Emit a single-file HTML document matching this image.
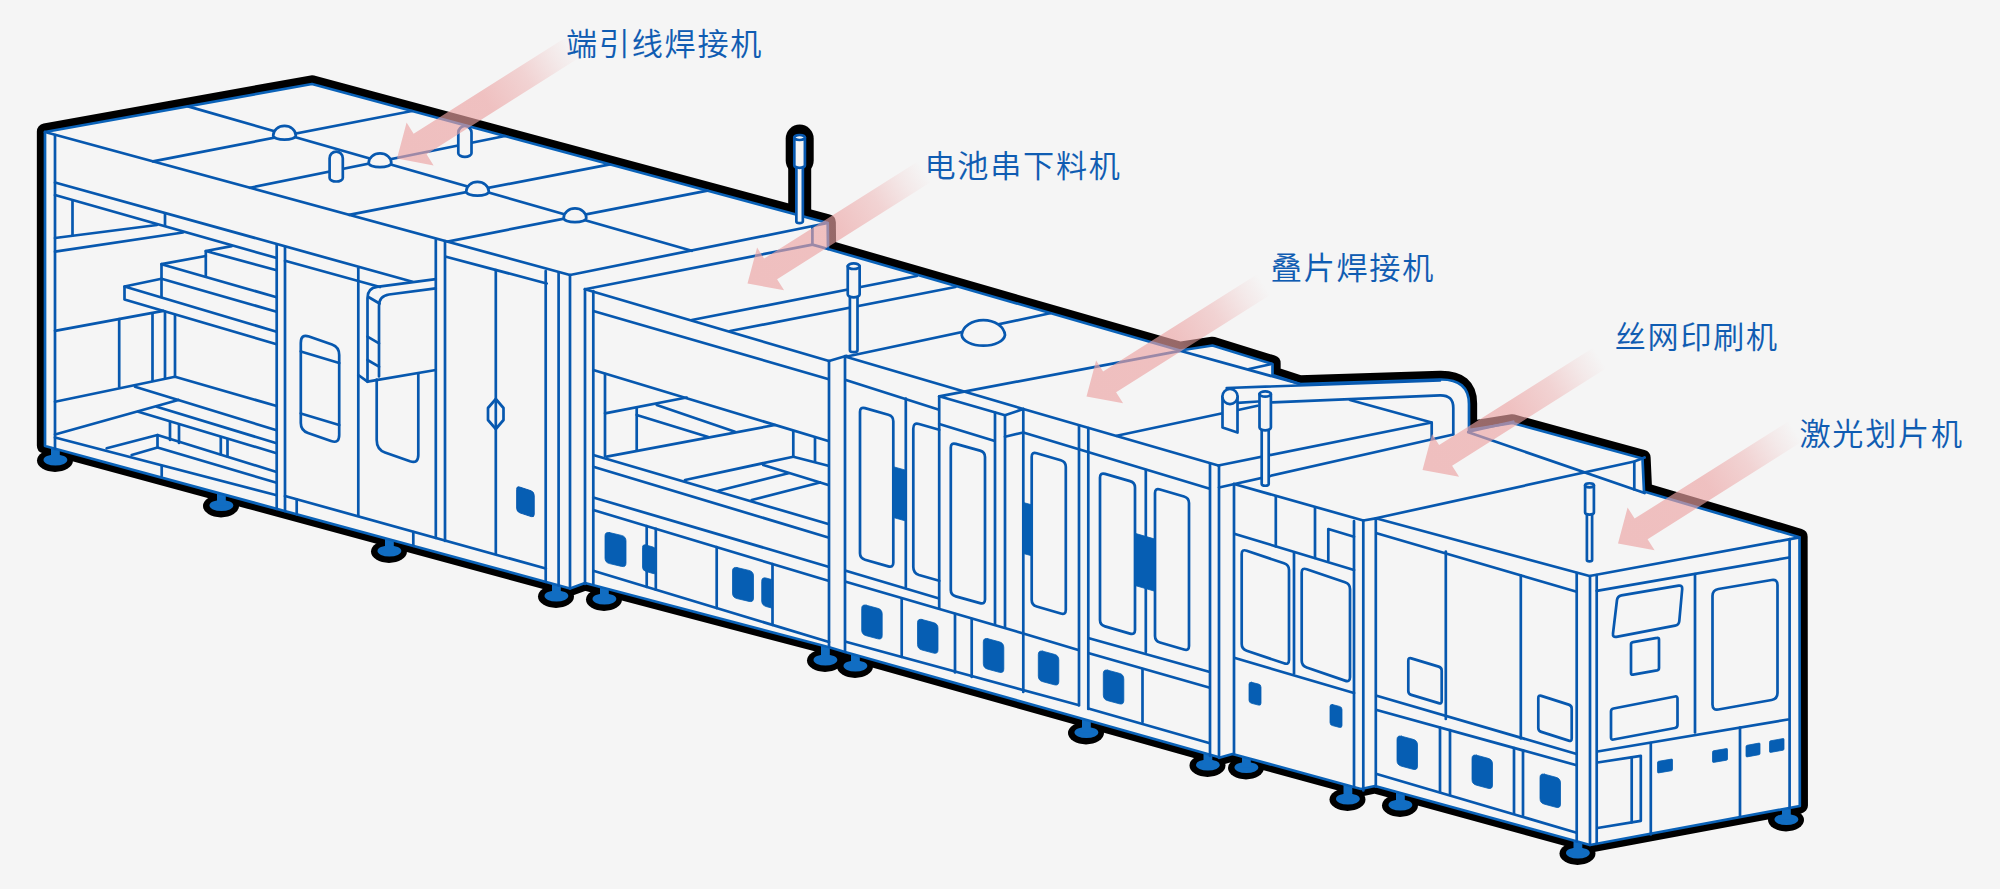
<!DOCTYPE html>
<html lang="zh"><head><meta charset="utf-8"><title>生产线</title>
<style>
html,body{margin:0;padding:0;background:#f5f5f5;}
body{width:2000px;height:889px;overflow:hidden;position:relative;font-family:"Liberation Sans","Noto Sans CJK SC",sans-serif;}
svg{position:absolute;left:0;top:0;display:block}
.lbl{position:absolute;color:#0f5cb2;font-size:31.1px;line-height:40px;font-weight:350;white-space:nowrap;-webkit-text-stroke:0.1px #0f5cb2;letter-spacing:1.75px}
</style></head><body>
<svg width="2000" height="889" viewBox="0 0 2000 889" stroke-linejoin="round" stroke-linecap="round">
<rect x="0" y="0" width="2000" height="889" fill="#f5f5f5"/>
<path d="M45,132 L312,84 L827.7,223 L828,249 L1180,350.5 L1212.5,345.5 L1272.5,364 L1272.5,375 L1300,384 L1440,379.5 Q1469,379 1469,404 L1469,430 L1512.5,423 L1642.5,458.5 L1644,491.5 L1799.5,537.3 L1799.8,806 L1590,845 L1375,786 L1361,789 L1232.5,754 L1220,757.5 L845,652 L830,647.5 L585,583 L570,588.5 L45,446 Z" fill="#000" stroke="#000" stroke-width="16.3" transform="translate(0,-0.6)"/>
<path d="M799.7,138.6 L799.7,160.5" fill="none" stroke="#000" stroke-width="28"/>
<path d="M799.7,150 L799.7,215" fill="none" stroke="#000" stroke-width="23"/>
<ellipse cx="55" cy="460.6" rx="18" ry="11.3" fill="#000"/>
<rect x="48" y="442" width="14" height="18" fill="#000"/>
<ellipse cx="221" cy="506.1" rx="18" ry="11.3" fill="#000"/>
<rect x="214" y="487.5" width="14" height="18" fill="#000"/>
<ellipse cx="389" cy="551.6" rx="18" ry="11.3" fill="#000"/>
<rect x="382" y="533" width="14" height="18" fill="#000"/>
<ellipse cx="556" cy="596.6" rx="18" ry="11.3" fill="#000"/>
<rect x="549" y="578" width="14" height="18" fill="#000"/>
<ellipse cx="604" cy="599.6" rx="18" ry="11.3" fill="#000"/>
<rect x="597" y="581" width="14" height="18" fill="#000"/>
<ellipse cx="825" cy="660.6" rx="18" ry="11.3" fill="#000"/>
<rect x="818" y="642" width="14" height="18" fill="#000"/>
<ellipse cx="855" cy="666.6" rx="18" ry="11.3" fill="#000"/>
<rect x="848" y="648" width="14" height="18" fill="#000"/>
<ellipse cx="1086" cy="733.1" rx="18" ry="11.3" fill="#000"/>
<rect x="1079" y="714.5" width="14" height="18" fill="#000"/>
<ellipse cx="1207.5" cy="765.6" rx="18" ry="11.3" fill="#000"/>
<rect x="1200.5" y="747" width="14" height="18" fill="#000"/>
<ellipse cx="1246" cy="768.1" rx="18" ry="11.3" fill="#000"/>
<rect x="1239" y="749.5" width="14" height="18" fill="#000"/>
<ellipse cx="1347.5" cy="799.6" rx="18" ry="11.3" fill="#000"/>
<rect x="1340.5" y="781" width="14" height="18" fill="#000"/>
<ellipse cx="1400" cy="805.6" rx="18" ry="11.3" fill="#000"/>
<rect x="1393" y="787" width="14" height="18" fill="#000"/>
<ellipse cx="1577.5" cy="853.6" rx="18" ry="11.3" fill="#000"/>
<rect x="1570.5" y="835" width="14" height="18" fill="#000"/>
<ellipse cx="1786" cy="820.1" rx="18" ry="11.3" fill="#000"/>
<rect x="1779" y="801.5" width="14" height="18" fill="#000"/>
<ellipse cx="55.4" cy="460" rx="11.9" ry="5.5" fill="#116dc2"/>
<path d="M50.6,440 L50.6,455.5 Q50.3,458 46,460 L64,460 Q59.7,458 59.4,455.5 L59.4,440 Z" fill="#116dc2" transform="translate(0.4,0)"/>
<ellipse cx="221.4" cy="505.5" rx="11.9" ry="5.5" fill="#116dc2"/>
<path d="M216.6,485.5 L216.6,501.0 Q216.3,503.5 212,505.5 L230,505.5 Q225.7,503.5 225.4,501.0 L225.4,485.5 Z" fill="#116dc2" transform="translate(0.4,0)"/>
<ellipse cx="389.4" cy="551" rx="11.9" ry="5.5" fill="#116dc2"/>
<path d="M384.6,531 L384.6,546.5 Q384.3,549 380,551 L398,551 Q393.7,549 393.4,546.5 L393.4,531 Z" fill="#116dc2" transform="translate(0.4,0)"/>
<ellipse cx="556.4" cy="596" rx="11.9" ry="5.5" fill="#116dc2"/>
<path d="M551.6,576 L551.6,591.5 Q551.3,594 547,596 L565,596 Q560.7,594 560.4,591.5 L560.4,576 Z" fill="#116dc2" transform="translate(0.4,0)"/>
<ellipse cx="604.4" cy="599" rx="11.9" ry="5.5" fill="#116dc2"/>
<path d="M599.6,579 L599.6,594.5 Q599.3,597 595,599 L613,599 Q608.7,597 608.4,594.5 L608.4,579 Z" fill="#116dc2" transform="translate(0.4,0)"/>
<ellipse cx="825.4" cy="660" rx="11.9" ry="5.5" fill="#116dc2"/>
<path d="M820.6,640 L820.6,655.5 Q820.3,658 816,660 L834,660 Q829.7,658 829.4,655.5 L829.4,640 Z" fill="#116dc2" transform="translate(0.4,0)"/>
<ellipse cx="855.4" cy="666" rx="11.9" ry="5.5" fill="#116dc2"/>
<path d="M850.6,646 L850.6,661.5 Q850.3,664 846,666 L864,666 Q859.7,664 859.4,661.5 L859.4,646 Z" fill="#116dc2" transform="translate(0.4,0)"/>
<ellipse cx="1086.4" cy="732.5" rx="11.9" ry="5.5" fill="#116dc2"/>
<path d="M1081.6,712.5 L1081.6,728.0 Q1081.3,730.5 1077,732.5 L1095,732.5 Q1090.7,730.5 1090.4,728.0 L1090.4,712.5 Z" fill="#116dc2" transform="translate(0.4,0)"/>
<ellipse cx="1207.9" cy="765" rx="11.9" ry="5.5" fill="#116dc2"/>
<path d="M1203.1,745 L1203.1,760.5 Q1202.8,763 1198.5,765 L1216.5,765 Q1212.2,763 1211.9,760.5 L1211.9,745 Z" fill="#116dc2" transform="translate(0.4,0)"/>
<ellipse cx="1246.4" cy="767.5" rx="11.9" ry="5.5" fill="#116dc2"/>
<path d="M1241.6,747.5 L1241.6,763.0 Q1241.3,765.5 1237,767.5 L1255,767.5 Q1250.7,765.5 1250.4,763.0 L1250.4,747.5 Z" fill="#116dc2" transform="translate(0.4,0)"/>
<ellipse cx="1347.9" cy="799" rx="11.9" ry="5.5" fill="#116dc2"/>
<path d="M1343.1,779 L1343.1,794.5 Q1342.8,797 1338.5,799 L1356.5,799 Q1352.2,797 1351.9,794.5 L1351.9,779 Z" fill="#116dc2" transform="translate(0.4,0)"/>
<ellipse cx="1400.4" cy="805" rx="11.9" ry="5.5" fill="#116dc2"/>
<path d="M1395.6,785 L1395.6,800.5 Q1395.3,803 1391,805 L1409,805 Q1404.7,803 1404.4,800.5 L1404.4,785 Z" fill="#116dc2" transform="translate(0.4,0)"/>
<ellipse cx="1577.9" cy="853" rx="11.9" ry="5.5" fill="#116dc2"/>
<path d="M1573.1,833 L1573.1,848.5 Q1572.8,851 1568.5,853 L1586.5,853 Q1582.2,851 1581.9,848.5 L1581.9,833 Z" fill="#116dc2" transform="translate(0.4,0)"/>
<ellipse cx="1786.4" cy="819.5" rx="11.9" ry="5.5" fill="#116dc2"/>
<path d="M1781.6,799.5 L1781.6,815.0 Q1781.3,817.5 1777,819.5 L1795,819.5 Q1790.7,817.5 1790.4,815.0 L1790.4,799.5 Z" fill="#116dc2" transform="translate(0.4,0)"/>
<path d="M45,132 L312,84 L827.7,223 L828,249 L1180,350.5 L1212.5,345.5 L1272.5,364 L1272.5,375 L1300,384 L1440,379.5 Q1469,379 1469,404 L1469,430 L1512.5,423 L1642.5,458.5 L1644,491.5 L1799.5,537.3 L1799.8,806 L1590,845 L1375,786 L1361,789 L1232.5,754 L1220,757.5 L845,652 L830,647.5 L585,583 L570,588.5 L45,446 Z" fill="#f5f5f5" stroke="#0a62b8" stroke-width="2.7"/>
<polyline points="45.0,132.0 570.0,275.0" fill="none" stroke="#0758af" stroke-width="2.7" />
<polyline points="570.0,275.0 827.7,223.0" fill="none" stroke="#0758af" stroke-width="2.7" />
<polyline points="188.0,106.4 691.7,250.8" fill="none" stroke="#0758af" stroke-width="2.7" />
<polyline points="153.0,161.4 412.0,111.0" fill="none" stroke="#0758af" stroke-width="2.7" />
<polyline points="250.0,187.8 505.0,136.0" fill="none" stroke="#0758af" stroke-width="2.7" />
<polyline points="349.0,214.8 610.0,164.3" fill="none" stroke="#0758af" stroke-width="2.7" />
<polyline points="447.5,241.6 707.5,190.6" fill="none" stroke="#0758af" stroke-width="2.7" />
<path d="M273.2,135.5 A11.3,9.6 0 0 1 295.8,135.5 A11.3,4.2 0 0 1 273.2,135.5 Z" fill="#f5f5f5" stroke="#0758af" stroke-width="2.7" />
<path d="M368.7,163 A11.3,9.6 0 0 1 391.3,163 A11.3,4.2 0 0 1 368.7,163 Z" fill="#f5f5f5" stroke="#0758af" stroke-width="2.7" />
<path d="M466.2,191.5 A11.3,9.6 0 0 1 488.8,191.5 A11.3,4.2 0 0 1 466.2,191.5 Z" fill="#f5f5f5" stroke="#0758af" stroke-width="2.7" />
<path d="M563.7,218 A11.3,9.6 0 0 1 586.3,218 A11.3,4.2 0 0 1 563.7,218 Z" fill="#f5f5f5" stroke="#0758af" stroke-width="2.7" />
<path d="M329.59999999999997,158.2 A6.6,6.6 0 0 1 342.8,158.2 L342.8,178 A6.6,3.5 0 0 1 329.59999999999997,178 Z" fill="#f5f5f5" stroke="#0758af" stroke-width="2.7" />
<path d="M458.29999999999995,132.6 A6.6,6.6 0 0 1 471.5,132.6 L471.5,153.3 A6.6,3.5 0 0 1 458.29999999999995,153.3 Z" fill="#f5f5f5" stroke="#0758af" stroke-width="2.7" />
<polyline points="55.0,135.0 55.0,449.0" fill="none" stroke="#0758af" stroke-width="2.7" />
<polyline points="55.0,182.5 412.5,281.7" fill="none" stroke="#0758af" stroke-width="2.7" />
<polyline points="55.0,195.0 276.7,258.0" fill="none" stroke="#0758af" stroke-width="2.7" />
<polyline points="165.0,213.3 165.0,225.5" fill="none" stroke="#0758af" stroke-width="2.7" />
<polyline points="72.5,200.5 72.5,235.5" fill="none" stroke="#0758af" stroke-width="2.7" />
<polyline points="55.0,238.0 157.0,225.0" fill="none" stroke="#0758af" stroke-width="2.7" />
<polyline points="55.0,251.7 183.0,232.5" fill="none" stroke="#0758af" stroke-width="2.7" />
<polyline points="231.7,246.2 205.8,251.0 275.8,270.0" fill="none" stroke="#0758af" stroke-width="2.7" />
<polyline points="205.8,251.0 205.8,276.5" fill="none" stroke="#0758af" stroke-width="2.7" />
<polyline points="205.8,256.0 161.5,264.2 275.8,297.0" fill="none" stroke="#0758af" stroke-width="2.7" />
<polyline points="161.5,264.2 161.5,297.0" fill="none" stroke="#0758af" stroke-width="2.7" />
<polyline points="161.5,278.8 275.8,311.5" fill="none" stroke="#0758af" stroke-width="2.7" />
<polyline points="161.5,278.8 124.5,286.5 275.8,331.5" fill="none" stroke="#0758af" stroke-width="2.7" />
<polyline points="124.5,286.5 124.5,299.5 275.8,344.0" fill="none" stroke="#0758af" stroke-width="2.7" />
<polyline points="55.0,330.8 163.3,310.8" fill="none" stroke="#0758af" stroke-width="2.7" />
<polyline points="119.2,319.0 119.2,386.7" fill="none" stroke="#0758af" stroke-width="2.7" />
<polyline points="152.5,314.0 152.5,380.8" fill="none" stroke="#0758af" stroke-width="2.7" />
<polyline points="165.0,311.7 165.0,378.5" fill="none" stroke="#0758af" stroke-width="2.7" />
<polyline points="175.0,315.0 175.0,376.7" fill="none" stroke="#0758af" stroke-width="2.7" />
<polyline points="55.0,401.7 175.0,376.7 275.8,405.8" fill="none" stroke="#0758af" stroke-width="2.7" />
<polyline points="135.0,386.7 178.3,400.0 275.8,430.0" fill="none" stroke="#0758af" stroke-width="2.7" />
<polyline points="55.0,434.5 178.3,400.0" fill="none" stroke="#0758af" stroke-width="2.7" />
<polyline points="138.3,411.7 275.8,453.0" fill="none" stroke="#0758af" stroke-width="2.7" />
<polyline points="156.7,406.7 275.8,443.0" fill="none" stroke="#0758af" stroke-width="2.7" />
<polyline points="170.0,422.5 170.0,440.0" fill="none" stroke="#0758af" stroke-width="2.7" />
<polyline points="179.0,425.0 179.0,443.0" fill="none" stroke="#0758af" stroke-width="2.7" />
<polyline points="220.8,437.5 220.8,454.5" fill="none" stroke="#0758af" stroke-width="2.7" />
<polyline points="227.5,439.5 227.5,456.5" fill="none" stroke="#0758af" stroke-width="2.7" />
<polyline points="55.0,437.5 275.8,495.0" fill="none" stroke="#0758af" stroke-width="2.7" />
<polyline points="106.7,448.3 157.5,435.0 275.8,471.7" fill="none" stroke="#0758af" stroke-width="2.7" />
<polyline points="157.5,435.0 157.5,447.5 275.8,482.5" fill="none" stroke="#0758af" stroke-width="2.7" />
<polyline points="131.7,455.0 157.5,447.5" fill="none" stroke="#0758af" stroke-width="2.7" />
<polyline points="161.7,466.0 161.7,476.0" fill="none" stroke="#0758af" stroke-width="2.7" />
<polyline points="276.7,245.5 276.7,508.9" fill="none" stroke="#0758af" stroke-width="2.7" />
<polyline points="285.0,247.5 285.0,511.1" fill="none" stroke="#0758af" stroke-width="2.7" />
<polyline points="285.0,260.8 380.0,287.0" fill="none" stroke="#0758af" stroke-width="2.7" />
<polyline points="358.3,268.3 358.3,516.0" fill="none" stroke="#0758af" stroke-width="2.7" />
<polyline points="285.0,496.0 545.8,568.5" fill="none" stroke="#0758af" stroke-width="2.7" />
<polyline points="296.7,499.5 296.7,514.3" fill="none" stroke="#0758af" stroke-width="2.7" />
<polyline points="413.3,532.0 413.3,546.0" fill="none" stroke="#0758af" stroke-width="2.7" />
<path d="M300.8,343 Q300.8,333.5 309,336.5 L332,344.5 Q339.2,347 339.2,355 L339.2,435 Q339.2,444 331,441 L308,433 Q300.8,430.5 300.8,423 Z" fill="none" stroke="#0758af" stroke-width="2.7" />
<polyline points="300.8,351.5 339.2,363.0" fill="none" stroke="#0758af" stroke-width="2.7" />
<polyline points="300.8,413.5 339.2,425.0" fill="none" stroke="#0758af" stroke-width="2.7" />
<path d="M435.8,279.2 L377,286.8 Q367.5,288 367.5,298 L367.5,381.7 L435.8,370" fill="none" stroke="#0758af" stroke-width="2.7" />
<path d="M435.8,288.3 L389,294.5 Q379,296 379,306 L379,376.5" fill="none" stroke="#0758af" stroke-width="2.7" />
<polyline points="369.3,297.5 379.5,303.5" fill="none" stroke="#0758af" stroke-width="2.7" />
<polyline points="367.5,336.7 379.0,343.3" fill="none" stroke="#0758af" stroke-width="2.7" />
<polyline points="367.5,360.0 379.0,366.7" fill="none" stroke="#0758af" stroke-width="2.7" />
<polyline points="358.3,375.0 367.5,381.7" fill="none" stroke="#0758af" stroke-width="2.7" />
<path d="M376.7,379.5 L376.7,440 Q376.7,449.5 385,452.5 L410,461.3 Q418.3,464 418.3,455 L418.3,373.5" fill="none" stroke="#0758af" stroke-width="2.7" />
<polyline points="435.8,240.0 435.8,538.0" fill="none" stroke="#0758af" stroke-width="2.7" />
<polyline points="445.0,241.0 445.0,541.0" fill="none" stroke="#0758af" stroke-width="2.7" />
<polyline points="446.0,256.7 546.7,283.5" fill="none" stroke="#0758af" stroke-width="2.7" />
<polyline points="495.8,270.0 495.8,553.5" fill="none" stroke="#0758af" stroke-width="2.7" />
<path d="M495.8,399 L503.5,408 L503.5,420 L495.8,429 L488,420 L488,408 Z" fill="none" stroke="#0758af" stroke-width="2.7" />
<polyline points="545.7,271.0 545.7,581.9" fill="none" stroke="#0758af" stroke-width="2.7" />
<polyline points="558.6,273.0 558.6,585.4" fill="none" stroke="#0758af" stroke-width="2.7" />
<polyline points="570.0,275.0 570.0,588.5" fill="none" stroke="#0758af" stroke-width="2.7" />
<path d="M516.7,489 Q516.7,486 519.5,487 L531,490.8 Q534.2,492 534.2,495.5 L534.2,514.5 Q534.2,517.5 531.3,516.6 L519.8,512.8 Q516.7,511.7 516.7,508.5 Z" fill="#065eb3" stroke="#0758af" stroke-width="1" />
<polyline points="812.4,227.0 812.4,244.6 828.0,249.0" fill="none" stroke="#0758af" stroke-width="2.7" />
<polyline points="585.0,289.2 812.4,244.6" fill="none" stroke="#0758af" stroke-width="2.7" />
<polyline points="585.0,289.2 829.0,361.0" fill="none" stroke="#0758af" stroke-width="2.7" />
<polyline points="593.3,291.0 593.3,584.0" fill="none" stroke="#0758af" stroke-width="2.7" />
<polyline points="585.0,289.2 585.0,584.0" fill="none" stroke="#0758af" stroke-width="2.7" />
<polyline points="593.3,311.0 828.0,379.0" fill="none" stroke="#0758af" stroke-width="2.7" />
<polyline points="691.7,320.0 916.7,276.0" fill="none" stroke="#0758af" stroke-width="2.7" />
<polyline points="730.0,331.0 955.4,287.0" fill="none" stroke="#0758af" stroke-width="2.7" />
<polyline points="593.3,370.0 828.3,441.0" fill="none" stroke="#0758af" stroke-width="2.7" />
<polyline points="605.0,374.0 605.0,456.0" fill="none" stroke="#0758af" stroke-width="2.7" />
<polyline points="605.0,413.3 686.7,397.5" fill="none" stroke="#0758af" stroke-width="2.7" />
<polyline points="636.7,408.0 636.7,449.5" fill="none" stroke="#0758af" stroke-width="2.7" />
<polyline points="656.7,405.0 735.0,431.7" fill="none" stroke="#0758af" stroke-width="2.7" />
<polyline points="636.7,415.0 708.3,437.0" fill="none" stroke="#0758af" stroke-width="2.7" />
<polyline points="606.7,456.7 775.0,425.0" fill="none" stroke="#0758af" stroke-width="2.7" />
<polyline points="685.0,480.0 793.3,456.7" fill="none" stroke="#0758af" stroke-width="2.7" />
<polyline points="793.3,431.5 793.3,456.7" fill="none" stroke="#0758af" stroke-width="2.7" />
<polyline points="815.0,438.0 815.0,461.7" fill="none" stroke="#0758af" stroke-width="2.7" />
<polyline points="793.3,456.7 828.3,465.8" fill="none" stroke="#0758af" stroke-width="2.7" />
<polyline points="763.3,465.0 828.3,485.0" fill="none" stroke="#0758af" stroke-width="2.7" />
<polyline points="718.3,490.8 788.3,473.3" fill="none" stroke="#0758af" stroke-width="2.7" />
<polyline points="751.7,500.0 820.0,482.5" fill="none" stroke="#0758af" stroke-width="2.7" />
<polyline points="593.3,455.0 828.3,524.0" fill="none" stroke="#0758af" stroke-width="2.7" />
<polyline points="593.3,466.7 828.3,537.5" fill="none" stroke="#0758af" stroke-width="2.7" />
<polyline points="593.3,497.5 828.3,566.7" fill="none" stroke="#0758af" stroke-width="2.7" />
<polyline points="593.3,510.0 828.3,580.8" fill="none" stroke="#0758af" stroke-width="2.7" />
<polyline points="646.7,526.1 646.7,587.0" fill="none" stroke="#0758af" stroke-width="2.7" />
<polyline points="655.8,528.8 655.8,589.7" fill="none" stroke="#0758af" stroke-width="2.7" />
<polyline points="716.7,547.2 716.7,608.1" fill="none" stroke="#0758af" stroke-width="2.7" />
<polyline points="772.5,564.0 772.5,625.0" fill="none" stroke="#0758af" stroke-width="2.7" />
<polyline points="593.3,570.8 829.0,642.0" fill="none" stroke="#0758af" stroke-width="2.7" />
<path d="M609.5,532.6 L621.5,535.4 Q626.0,536.5 626.0,541.0 L626.0,563.0 Q626.0,567.5 621.5,566.4 L609.5,563.6 Q605.0,562.5 605.0,558.0 L605.0,536.0 Q605.0,531.5 609.5,532.6 Z" fill="#065eb3" stroke="#065eb3" stroke-width="0.8" />
<path d="M646.0,545.0 L653.0,547.0 Q656.5,548.0 656.5,551.5 L656.5,571.0 Q656.5,574.5 653.0,573.5 L646.0,571.5 Q642.5,570.5 642.5,567.0 L642.5,547.5 Q642.5,544.0 646.0,545.0 Z" fill="#065eb3" stroke="#065eb3" stroke-width="0.8" />
<path d="M737.0,567.6 L749.0,570.4 Q753.5,571.5 753.5,576.0 L753.5,598.0 Q753.5,602.5 749.0,601.4 L737.0,598.6 Q732.5,597.5 732.5,593.0 L732.5,571.0 Q732.5,566.5 737.0,567.6 Z" fill="#065eb3" stroke="#065eb3" stroke-width="0.8" />
<path d="M771.5,579.5 L766,578 Q761.7,577 761.7,581.5 L761.7,601 Q761.7,605 766,606.5 L771.5,608 Z" fill="#065eb3" stroke="#065eb3" stroke-width="0.8" />
<polyline points="829.0,361.0 829.0,647.0" fill="none" stroke="#0758af" stroke-width="2.7" />
<polyline points="845.0,356.0 845.0,652.0" fill="none" stroke="#0758af" stroke-width="2.7" />
<polyline points="829.0,361.0 846.7,355.8" fill="none" stroke="#0758af" stroke-width="2.7" />
<polyline points="845.8,356.7 1050.0,313.3" fill="none" stroke="#0758af" stroke-width="2.7" />
<path d="M961.7,335 A21.7,16 0 0 1 1005,335 A21.7,11.5 0 0 1 961.7,335 Z" fill="#f5f5f5" stroke="#0758af" stroke-width="2.7" />
<polyline points="845.8,356.7 1023.3,409.0 1218.3,465.5" fill="none" stroke="#0758af" stroke-width="2.7" />
<polyline points="1180.0,350.8 939.2,396.3 1005.0,415.3 1023.3,409.0" fill="none" stroke="#0758af" stroke-width="2.7" />
<polyline points="939.2,396.3 939.2,608.5" fill="none" stroke="#0758af" stroke-width="2.7" />
<polyline points="995.0,412.5 995.0,624.5" fill="none" stroke="#0758af" stroke-width="2.7" />
<polyline points="1005.0,415.3 1005.0,627.0" fill="none" stroke="#0758af" stroke-width="2.7" />
<polyline points="939.2,424.0 994.0,440.8" fill="none" stroke="#0758af" stroke-width="2.7" />
<polyline points="1005.0,436.7 1023.3,432.5" fill="none" stroke="#0758af" stroke-width="2.7" />
<polyline points="845.8,380.0 938.3,409.5" fill="none" stroke="#0758af" stroke-width="2.7" />
<polyline points="1023.3,432.5 1209.0,488.5" fill="none" stroke="#0758af" stroke-width="2.7" />
<polyline points="1116.7,435.8 1222.5,413.3" fill="none" stroke="#0758af" stroke-width="2.7" />
<polyline points="905.8,398.5 905.8,587.0" fill="none" stroke="#0758af" stroke-width="2.7" />
<polyline points="1023.3,409.0 1023.3,692.0" fill="none" stroke="#0758af" stroke-width="2.7" />
<polyline points="1079.0,425.3 1079.0,705.5" fill="none" stroke="#0758af" stroke-width="2.7" />
<polyline points="1088.3,428.0 1088.3,709.0" fill="none" stroke="#0758af" stroke-width="2.7" />
<polyline points="1145.8,470.0 1145.8,652.0" fill="none" stroke="#0758af" stroke-width="2.7" />
<polyline points="1210.0,463.5 1210.0,756.0" fill="none" stroke="#0758af" stroke-width="2.7" />
<polyline points="1219.0,465.8 1219.0,758.0" fill="none" stroke="#0758af" stroke-width="2.7" />
<path d="M865.0,408.1 L888.3,414.8 Q893.3,416.2 893.3,421.2 L893.3,562.8 Q893.3,567.8 888.3,566.4 L865.0,559.7 Q860.0,558.3 860.0,553.3 L860.0,411.7 Q860.0,406.7 865.0,408.1 Z" fill="none" stroke="#0758af" stroke-width="2.7" />
<path d="M939.2,429.8 L919,424 Q913.3,422.3 913.3,428.5 L913.3,567 Q913.3,573.2 919,575 L939.2,580.8" fill="none" stroke="#0758af" stroke-width="2.7" />
<path d="M955.8,443.9 L980.0,450.6 Q985.0,452.0 985.0,457.0 L985.0,599.5 Q985.0,604.5 980.0,603.1 L955.8,596.4 Q950.8,595.0 950.8,590.0 L950.8,447.5 Q950.8,442.5 955.8,443.9 Z" fill="none" stroke="#0758af" stroke-width="2.7" />
<path d="M1036.7,453.2 L1060.8,460.2 Q1065.8,461.7 1065.8,466.7 L1065.8,610.0 Q1065.8,615.0 1060.8,613.5 L1036.7,606.5 Q1031.7,605.0 1031.7,600.0 L1031.7,456.7 Q1031.7,451.7 1036.7,453.2 Z" fill="none" stroke="#0758af" stroke-width="2.7" />
<path d="M1105.0,473.9 L1130.0,481.1 Q1135.0,482.5 1135.0,487.5 L1135.0,630.0 Q1135.0,635.0 1130.0,633.6 L1105.0,626.4 Q1100.0,625.0 1100.0,620.0 L1100.0,477.5 Q1100.0,472.5 1105.0,473.9 Z" fill="none" stroke="#0758af" stroke-width="2.7" />
<path d="M1160.0,489.5 L1184.0,496.5 Q1189.0,498.0 1189.0,503.0 L1189.0,646.0 Q1189.0,651.0 1184.0,649.5 L1160.0,642.5 Q1155.0,641.0 1155.0,636.0 L1155.0,493.0 Q1155.0,488.0 1160.0,489.5 Z" fill="none" stroke="#0758af" stroke-width="2.7" />
<polygon points="893.3,466.7 905.8,470.2 905.8,521.0 893.3,517.5" fill="#065eb3" stroke="#065eb3" stroke-width="0.8" />
<polygon points="1023.3,502.5 1032.5,505.0 1032.5,556.0 1023.3,553.5" fill="#065eb3" stroke="#065eb3" stroke-width="0.8" />
<polygon points="1135.0,533.3 1155.0,539.1 1155.0,591.3 1135.0,585.5" fill="#065eb3" stroke="#065eb3" stroke-width="0.8" />
<polyline points="845.8,570.8 938.3,598.3" fill="none" stroke="#0758af" stroke-width="2.7" />
<polyline points="845.8,581.7 1023.3,633.5 1078.3,650.0" fill="none" stroke="#0758af" stroke-width="2.7" />
<polyline points="1089.0,638.3 1209.0,671.7" fill="none" stroke="#0758af" stroke-width="2.7" />
<polyline points="1089.0,653.3 1209.0,687.5" fill="none" stroke="#0758af" stroke-width="2.7" />
<polyline points="901.7,598.5 901.7,657.0" fill="none" stroke="#0758af" stroke-width="2.7" />
<polyline points="955.0,614.0 955.0,672.5" fill="none" stroke="#0758af" stroke-width="2.7" />
<polyline points="971.7,619.0 971.7,677.0" fill="none" stroke="#0758af" stroke-width="2.7" />
<polyline points="1142.5,669.0 1142.5,722.0" fill="none" stroke="#0758af" stroke-width="2.7" />
<polyline points="845.8,641.7 1078.3,705.0" fill="none" stroke="#0758af" stroke-width="2.7" />
<polyline points="1088.3,708.5 1209.0,743.0" fill="none" stroke="#0758af" stroke-width="2.7" />
<path d="M866.2,605.2 L877.7,608.3 Q882.2,609.5 882.2,614.0 L882.2,635.5 Q882.2,640.0 877.7,638.8 L866.2,635.7 Q861.7,634.5 861.7,630.0 L861.7,608.5 Q861.7,604.0 866.2,605.2 Z" fill="#065eb3" stroke="#065eb3" stroke-width="0.8" />
<path d="M922.0,619.5 L933.5,622.6 Q938.0,623.8 938.0,628.3 L938.0,649.8 Q938.0,654.3 933.5,653.1 L922.0,650.0 Q917.5,648.8 917.5,644.3 L917.5,622.8 Q917.5,618.3 922.0,619.5 Z" fill="#065eb3" stroke="#065eb3" stroke-width="0.8" />
<path d="M987.8,638.7 L999.3,641.8 Q1003.8,643.0 1003.8,647.5 L1003.8,669.0 Q1003.8,673.5 999.3,672.3 L987.8,669.2 Q983.3,668.0 983.3,663.5 L983.3,642.0 Q983.3,637.5 987.8,638.7 Z" fill="#065eb3" stroke="#065eb3" stroke-width="0.8" />
<path d="M1042.8,651.2 L1054.3,654.3 Q1058.8,655.5 1058.8,660.0 L1058.8,681.5 Q1058.8,686.0 1054.3,684.8 L1042.8,681.7 Q1038.3,680.5 1038.3,676.0 L1038.3,654.5 Q1038.3,650.0 1042.8,651.2 Z" fill="#065eb3" stroke="#065eb3" stroke-width="0.8" />
<path d="M1107.8,670.2 L1119.3,673.3 Q1123.8,674.5 1123.8,679.0 L1123.8,700.5 Q1123.8,705.0 1119.3,703.8 L1107.8,700.7 Q1103.3,699.5 1103.3,695.0 L1103.3,673.5 Q1103.3,669.0 1107.8,670.2 Z" fill="#065eb3" stroke="#065eb3" stroke-width="0.8" />
<polyline points="1180.0,350.8 1300.0,384.0" fill="none" stroke="#0758af" stroke-width="2.7" />
<polyline points="1249.0,369.0 1271.7,364.0" fill="none" stroke="#0758af" stroke-width="2.7" />
<path d="M1226.7,388 L1440,380.5" fill="none" stroke="#0758af" stroke-width="2.7" />
<path d="M1237.5,402.8 L1258,401.5" fill="none" stroke="#0758af" stroke-width="2.7" />
<path d="M1272.5,402.3 L1440,395.3 Q1453.3,395 1453.3,408 L1453.3,433.5" fill="none" stroke="#0758af" stroke-width="2.7" />
<polyline points="1238.0,410.0 1257.5,405.8" fill="none" stroke="#0758af" stroke-width="2.7" />
<path d="M1222.5,396.7 L1222.5,427.5 L1237.5,432.5 L1237.5,396.7" fill="#f5f5f5" stroke="#0758af" stroke-width="2.7" />
<circle cx="1230" cy="396.5" r="7.6" fill="#f5f5f5" stroke="#0758af" stroke-width="2.7"/>
<polyline points="1218.3,465.5 1431.7,422.5" fill="none" stroke="#0758af" stroke-width="2.7" />
<polyline points="1350.0,400.0 1431.7,422.5 1431.7,438.5" fill="none" stroke="#0758af" stroke-width="2.7" />
<polyline points="1219.0,487.5 1453.3,434.5" fill="none" stroke="#0758af" stroke-width="2.7" />
<polyline points="1468.3,431.7 1513.3,421.7" fill="none" stroke="#0758af" stroke-width="2.7" />
<polyline points="1468.3,432.3 1644.6,493.0" fill="none" stroke="#0758af" stroke-width="2.7" />
<polyline points="1363.3,520.5 1375.8,518.3 1634.3,461.5 1644.6,457.5" fill="none" stroke="#0758af" stroke-width="2.7" />
<polyline points="1634.3,461.5 1634.3,489.5" fill="none" stroke="#0758af" stroke-width="2.7" />
<polyline points="1234.0,484.0 1363.3,520.5" fill="none" stroke="#0758af" stroke-width="2.7" />
<polyline points="1234.0,484.0 1234.0,754.0" fill="none" stroke="#0758af" stroke-width="2.7" />
<polyline points="1235.0,534.0 1354.0,570.0" fill="none" stroke="#0758af" stroke-width="2.7" />
<polyline points="1275.8,496.5 1275.8,546.5" fill="none" stroke="#0758af" stroke-width="2.7" />
<polyline points="1315.0,508.0 1315.0,558.0" fill="none" stroke="#0758af" stroke-width="2.7" />
<polyline points="1328.3,560.5 1328.3,529.0 1354.0,536.7" fill="none" stroke="#0758af" stroke-width="2.7" />
<polyline points="1354.0,521.0 1354.0,787.0" fill="none" stroke="#0758af" stroke-width="2.7" />
<polyline points="1363.3,520.5 1363.3,790.5" fill="none" stroke="#0758af" stroke-width="2.7" />
<path d="M1246.7,550.7 L1284.0,563.3 Q1289.0,565.0 1289.0,570.0 L1289.0,660.0 Q1289.0,665.0 1284.0,663.3 L1246.7,650.7 Q1241.7,649.0 1241.7,644.0 L1241.7,554.0 Q1241.7,549.0 1246.7,550.7 Z" fill="none" stroke="#0758af" stroke-width="2.7" />
<path d="M1306.7,569.2 L1345.0,582.3 Q1350.0,584.0 1350.0,589.0 L1350.0,677.3 Q1350.0,682.3 1345.0,680.6 L1306.7,667.5 Q1301.7,665.8 1301.7,660.8 L1301.7,572.5 Q1301.7,567.5 1306.7,569.2 Z" fill="none" stroke="#0758af" stroke-width="2.7" />
<polyline points="1294.0,553.0 1294.0,673.5" fill="none" stroke="#0758af" stroke-width="2.7" />
<polyline points="1235.0,658.0 1354.0,693.0" fill="none" stroke="#0758af" stroke-width="2.7" />
<path d="M1251.5,682.3 L1258.5,684.1 Q1261.0,684.7 1261.0,687.2 L1261.0,703.2 Q1261.0,705.7 1258.5,705.1 L1251.5,703.3 Q1249.0,702.7 1249.0,700.2 L1249.0,684.2 Q1249.0,681.7 1251.5,682.3 Z" fill="#065eb3" stroke="#065eb3" stroke-width="0.8" />
<path d="M1332.5,704.6 L1339.5,706.4 Q1342.0,707.0 1342.0,709.5 L1342.0,725.5 Q1342.0,728.0 1339.5,727.4 L1332.5,725.6 Q1330.0,725.0 1330.0,722.5 L1330.0,706.5 Q1330.0,704.0 1332.5,704.6 Z" fill="#065eb3" stroke="#065eb3" stroke-width="0.8" />
<polyline points="1375.8,518.3 1589.5,576.0 1799.5,537.3" fill="none" stroke="#0758af" stroke-width="2.7" />
<polyline points="1375.8,518.3 1375.8,786.7" fill="none" stroke="#0758af" stroke-width="2.7" />
<polyline points="1376.7,533.3 1576.7,591.7" fill="none" stroke="#0758af" stroke-width="2.7" />
<polyline points="1445.8,551.5 1445.8,719.0" fill="none" stroke="#0758af" stroke-width="2.7" />
<polyline points="1520.8,575.5 1520.8,738.5" fill="none" stroke="#0758af" stroke-width="2.7" />
<polyline points="1576.7,573.0 1576.7,841.5" fill="none" stroke="#0758af" stroke-width="2.7" />
<polyline points="1590.0,576.0 1590.0,845.0" fill="none" stroke="#0758af" stroke-width="2.7" />
<polyline points="1596.7,575.0 1596.7,844.0" fill="none" stroke="#0758af" stroke-width="2.7" />
<path d="M1411.3,658.4 L1438.7,666.6 Q1441.7,667.5 1441.7,670.5 L1441.7,701.0 Q1441.7,704.0 1438.7,703.1 L1411.3,694.9 Q1408.3,694.0 1408.3,691.0 L1408.3,660.5 Q1408.3,657.5 1411.3,658.4 Z" fill="none" stroke="#0758af" stroke-width="2.7" />
<path d="M1541.3,695.9 L1568.7,704.6 Q1571.7,705.5 1571.7,708.5 L1571.7,738.5 Q1571.7,741.5 1568.7,740.6 L1541.3,731.9 Q1538.3,731.0 1538.3,728.0 L1538.3,698.0 Q1538.3,695.0 1541.3,695.9 Z" fill="none" stroke="#0758af" stroke-width="2.7" />
<polyline points="1376.7,695.8 1576.7,754.0" fill="none" stroke="#0758af" stroke-width="2.7" />
<polyline points="1376.7,710.0 1575.8,765.0" fill="none" stroke="#0758af" stroke-width="2.7" />
<polyline points="1440.0,727.5 1440.0,792.0" fill="none" stroke="#0758af" stroke-width="2.7" />
<polyline points="1450.0,730.0 1450.0,795.0" fill="none" stroke="#0758af" stroke-width="2.7" />
<polyline points="1514.0,748.0 1514.0,813.5" fill="none" stroke="#0758af" stroke-width="2.7" />
<polyline points="1523.0,750.5 1523.0,816.5" fill="none" stroke="#0758af" stroke-width="2.7" />
<polyline points="1376.7,774.0 1575.8,832.5" fill="none" stroke="#0758af" stroke-width="2.7" />
<path d="M1401.5,736.2 L1413.0,739.3 Q1417.5,740.5 1417.5,745.0 L1417.5,766.0 Q1417.5,770.5 1413.0,769.3 L1401.5,766.2 Q1397.0,765.0 1397.0,760.5 L1397.0,739.5 Q1397.0,735.0 1401.5,736.2 Z" fill="#065eb3" stroke="#065eb3" stroke-width="0.8" />
<path d="M1476.5,755.2 L1488.0,758.3 Q1492.5,759.5 1492.5,764.0 L1492.5,785.0 Q1492.5,789.5 1488.0,788.3 L1476.5,785.2 Q1472.0,784.0 1472.0,779.5 L1472.0,758.5 Q1472.0,754.0 1476.5,755.2 Z" fill="#065eb3" stroke="#065eb3" stroke-width="0.8" />
<path d="M1544.5,774.2 L1556.0,777.3 Q1560.5,778.5 1560.5,783.0 L1560.5,804.0 Q1560.5,808.5 1556.0,807.3 L1544.5,804.2 Q1540.0,803.0 1540.0,798.5 L1540.0,777.5 Q1540.0,773.0 1544.5,774.2 Z" fill="#065eb3" stroke="#065eb3" stroke-width="0.8" />
<polyline points="1596.7,590.8 1789.0,557.5" fill="none" stroke="#0758af" stroke-width="2.7" />
<polyline points="1695.0,574.0 1695.0,732.5" fill="none" stroke="#0758af" stroke-width="2.7" />
<polyline points="1789.6,539.0 1789.6,808.0" fill="none" stroke="#0758af" stroke-width="2.7" />
<path d="M1617.0,600.0 Q1617.5,596.0 1621.4,595.3 L1678.6,585.7 Q1682.5,585.0 1682.2,589.0 L1679.3,621.0 Q1679.0,625.0 1675.1,625.7 L1616.4,636.8 Q1612.5,637.5 1613.0,633.5 Z" fill="none" stroke="#0758af" stroke-width="2.7" />
<path d="M1631.0,644.5 Q1631.0,642.5 1633.0,642.1 L1657.0,637.9 Q1659.0,637.5 1659.0,639.5 L1659.0,668.0 Q1659.0,670.0 1657.0,670.4 L1633.0,674.6 Q1631.0,675.0 1631.0,673.0 Z" fill="none" stroke="#0758af" stroke-width="2.7" />
<path d="M1611.0,711.5 Q1611.0,709.0 1613.5,708.5 L1675.0,696.5 Q1677.5,696.0 1677.5,698.5 L1677.5,725.0 Q1677.5,727.5 1675.0,728.0 L1613.5,739.5 Q1611.0,740.0 1611.0,737.5 Z" fill="none" stroke="#0758af" stroke-width="2.7" />
<path d="M1712.5,596.0 Q1712.5,590.0 1718.4,589.0 L1771.6,580.0 Q1777.5,579.0 1777.5,585.0 L1777.5,693.0 Q1777.5,699.0 1771.6,700.0 L1718.4,709.5 Q1712.5,710.5 1712.5,704.5 Z" fill="none" stroke="#0758af" stroke-width="2.7" />
<polyline points="1597.5,751.5 1788.0,719.5" fill="none" stroke="#0758af" stroke-width="2.7" />
<polyline points="1740.0,727.5 1740.0,816.5" fill="none" stroke="#0758af" stroke-width="2.7" />
<polyline points="1650.8,743.0 1650.8,834.5" fill="none" stroke="#0758af" stroke-width="2.7" />
<polyline points="1597.5,762.5 1640.8,755.8 1640.8,820.8 1597.5,828.0" fill="none" stroke="#0758af" stroke-width="2.7" />
<polyline points="1631.7,757.3 1631.7,822.3" fill="none" stroke="#0758af" stroke-width="2.7" />
<path d="M1657.5,762.5 Q1657.5,761.5 1658.5,761.3 L1671.5,759.1 Q1672.5,758.9 1672.5,759.9 L1672.5,769.5 Q1672.5,770.5 1671.5,770.7 L1658.5,772.9 Q1657.5,773.1 1657.5,772.1 Z" fill="#065eb3" stroke="#065eb3" stroke-width="0.8" />
<path d="M1712.5,752.0 Q1712.5,751.0 1713.5,750.8 L1726.5,748.6 Q1727.5,748.4 1727.5,749.4 L1727.5,759.0 Q1727.5,760.0 1726.5,760.2 L1713.5,762.4 Q1712.5,762.6 1712.5,761.6 Z" fill="#065eb3" stroke="#065eb3" stroke-width="0.8" />
<path d="M1746.0,746.5 Q1746.0,745.5 1747.0,745.3 L1759.0,743.1 Q1760.0,742.9 1760.0,743.9 L1760.0,753.5 Q1760.0,754.5 1759.0,754.7 L1747.0,756.9 Q1746.0,757.1 1746.0,756.1 Z" fill="#065eb3" stroke="#065eb3" stroke-width="0.8" />
<path d="M1769.5,742.0 Q1769.5,741.0 1770.5,740.8 L1783.0,738.6 Q1784.0,738.4 1784.0,739.4 L1784.0,749.0 Q1784.0,750.0 1783.0,750.2 L1770.5,752.4 Q1769.5,752.6 1769.5,751.6 Z" fill="#065eb3" stroke="#065eb3" stroke-width="0.8" />
<path d="M849.90,294.60 L849.90,350.30 A3.80,1.90 0 0 0 857.50,350.30 L857.50,294.60" fill="#f5f5f5" stroke="#0758af" stroke-width="2.7" />
<path d="M847.75,266.20 L847.75,294.60 A5.95,2.80 0 0 0 859.65,294.60 L859.65,266.20" fill="#f5f5f5" stroke="#0758af" stroke-width="2.7" />
<ellipse cx="853.70" cy="266.20" rx="5.95" ry="2.80" fill="#f5f5f5" stroke="#0758af" stroke-width="2.7"/>
<path d="M1261.70,427.60 L1261.70,484.00 A3.50,1.75 0 0 0 1268.70,484.00 L1268.70,427.60" fill="#f5f5f5" stroke="#0758af" stroke-width="2.7" />
<path d="M1259.50,394.00 L1259.50,427.60 A5.70,2.68 0 0 0 1270.90,427.60 L1270.90,394.00" fill="#f5f5f5" stroke="#0758af" stroke-width="2.7" />
<ellipse cx="1265.20" cy="394.00" rx="5.70" ry="2.68" fill="#f5f5f5" stroke="#0758af" stroke-width="2.7"/>
<path d="M1586.90,512.60 L1586.90,560.00 A2.60,1.30 0 0 0 1592.10,560.00 L1592.10,512.60" fill="#f5f5f5" stroke="#0758af" stroke-width="2.7" />
<path d="M1585.10,485.30 L1585.10,512.60 A4.40,2.07 0 0 0 1593.90,512.60 L1593.90,485.30" fill="#f5f5f5" stroke="#0758af" stroke-width="2.7" />
<ellipse cx="1589.50" cy="485.30" rx="4.40" ry="2.07" fill="#f5f5f5" stroke="#0758af" stroke-width="2.7"/>
<path d="M796.35,165.30 L796.35,221.50 A3.25,1.62 0 0 0 802.85,221.50 L802.85,165.30" fill="#f5f5f5" stroke="#0758af" stroke-width="2.7" />
<path d="M794.30,137.50 L794.30,165.30 A5.30,2.49 0 0 0 804.90,165.30 L804.90,137.50" fill="#f5f5f5" stroke="#0758af" stroke-width="2.7" />
<ellipse cx="799.60" cy="137.50" rx="5.30" ry="2.49" fill="#f5f5f5" stroke="#0758af" stroke-width="2.7"/>
<defs><linearGradient id="ag0" gradientUnits="userSpaceOnUse" x1="397.0" y1="158.6" x2="576.2" y2="45.3"><stop offset="0" stop-color="#eca3a3" stop-opacity="0.66"/><stop offset="0.5" stop-color="#eca3a3" stop-opacity="0.64"/><stop offset="0.72" stop-color="#eca3a3" stop-opacity="0.42"/><stop offset="0.88" stop-color="#eca3a3" stop-opacity="0.15"/><stop offset="0.99" stop-color="#eca3a3" stop-opacity="0"/></linearGradient><linearGradient id="ag1" gradientUnits="userSpaceOnUse" x1="747.5" y1="283.5" x2="926.7" y2="170.2"><stop offset="0" stop-color="#eca3a3" stop-opacity="0.66"/><stop offset="0.5" stop-color="#eca3a3" stop-opacity="0.64"/><stop offset="0.72" stop-color="#eca3a3" stop-opacity="0.42"/><stop offset="0.88" stop-color="#eca3a3" stop-opacity="0.15"/><stop offset="0.99" stop-color="#eca3a3" stop-opacity="0"/></linearGradient><linearGradient id="ag2" gradientUnits="userSpaceOnUse" x1="1086.5" y1="396.5" x2="1265.7" y2="283.2"><stop offset="0" stop-color="#eca3a3" stop-opacity="0.66"/><stop offset="0.5" stop-color="#eca3a3" stop-opacity="0.64"/><stop offset="0.72" stop-color="#eca3a3" stop-opacity="0.42"/><stop offset="0.88" stop-color="#eca3a3" stop-opacity="0.15"/><stop offset="0.99" stop-color="#eca3a3" stop-opacity="0"/></linearGradient><linearGradient id="ag3" gradientUnits="userSpaceOnUse" x1="1422.5" y1="470.0" x2="1601.7" y2="356.7"><stop offset="0" stop-color="#eca3a3" stop-opacity="0.66"/><stop offset="0.5" stop-color="#eca3a3" stop-opacity="0.64"/><stop offset="0.72" stop-color="#eca3a3" stop-opacity="0.42"/><stop offset="0.88" stop-color="#eca3a3" stop-opacity="0.15"/><stop offset="0.99" stop-color="#eca3a3" stop-opacity="0"/></linearGradient><linearGradient id="ag4" gradientUnits="userSpaceOnUse" x1="1618.0" y1="543.5" x2="1797.2" y2="430.2"><stop offset="0" stop-color="#eca3a3" stop-opacity="0.66"/><stop offset="0.5" stop-color="#eca3a3" stop-opacity="0.64"/><stop offset="0.72" stop-color="#eca3a3" stop-opacity="0.42"/><stop offset="0.88" stop-color="#eca3a3" stop-opacity="0.15"/><stop offset="0.99" stop-color="#eca3a3" stop-opacity="0"/></linearGradient></defs>
<polygon points="397.0,158.6 406.6,122.6 413.6,133.7 569.7,35.0 582.7,55.6 426.6,154.3 433.6,165.4" fill="url(#ag0)" stroke="none"/>
<polygon points="747.5,283.5 757.1,247.5 764.1,258.6 920.2,159.9 933.2,180.5 777.1,279.2 784.1,290.3" fill="url(#ag1)" stroke="none"/>
<polygon points="1086.5,396.5 1096.1,360.5 1103.1,371.6 1259.2,272.9 1272.2,293.5 1116.1,392.2 1123.1,403.3" fill="url(#ag2)" stroke="none"/>
<polygon points="1422.5,470.0 1432.1,434.0 1439.1,445.1 1595.2,346.4 1608.2,367.0 1452.1,465.7 1459.1,476.8" fill="url(#ag3)" stroke="none"/>
<polygon points="1618.0,543.5 1627.6,507.5 1634.6,518.6 1790.7,419.9 1803.7,440.5 1647.6,539.2 1654.6,550.3" fill="url(#ag4)" stroke="none"/>
</svg>
<div class="lbl" style="left:566.0px;top:24.55px">端引线焊接机</div>
<div class="lbl" style="left:924.5px;top:147.05px">电池串下料机</div>
<div class="lbl" style="left:1270.8px;top:248.85px">叠片焊接机</div>
<div class="lbl" style="left:1614.7px;top:318.15px">丝网印刷机</div>
<div class="lbl" style="left:1799.5px;top:414.85px">激光划片机</div>
</body></html>
